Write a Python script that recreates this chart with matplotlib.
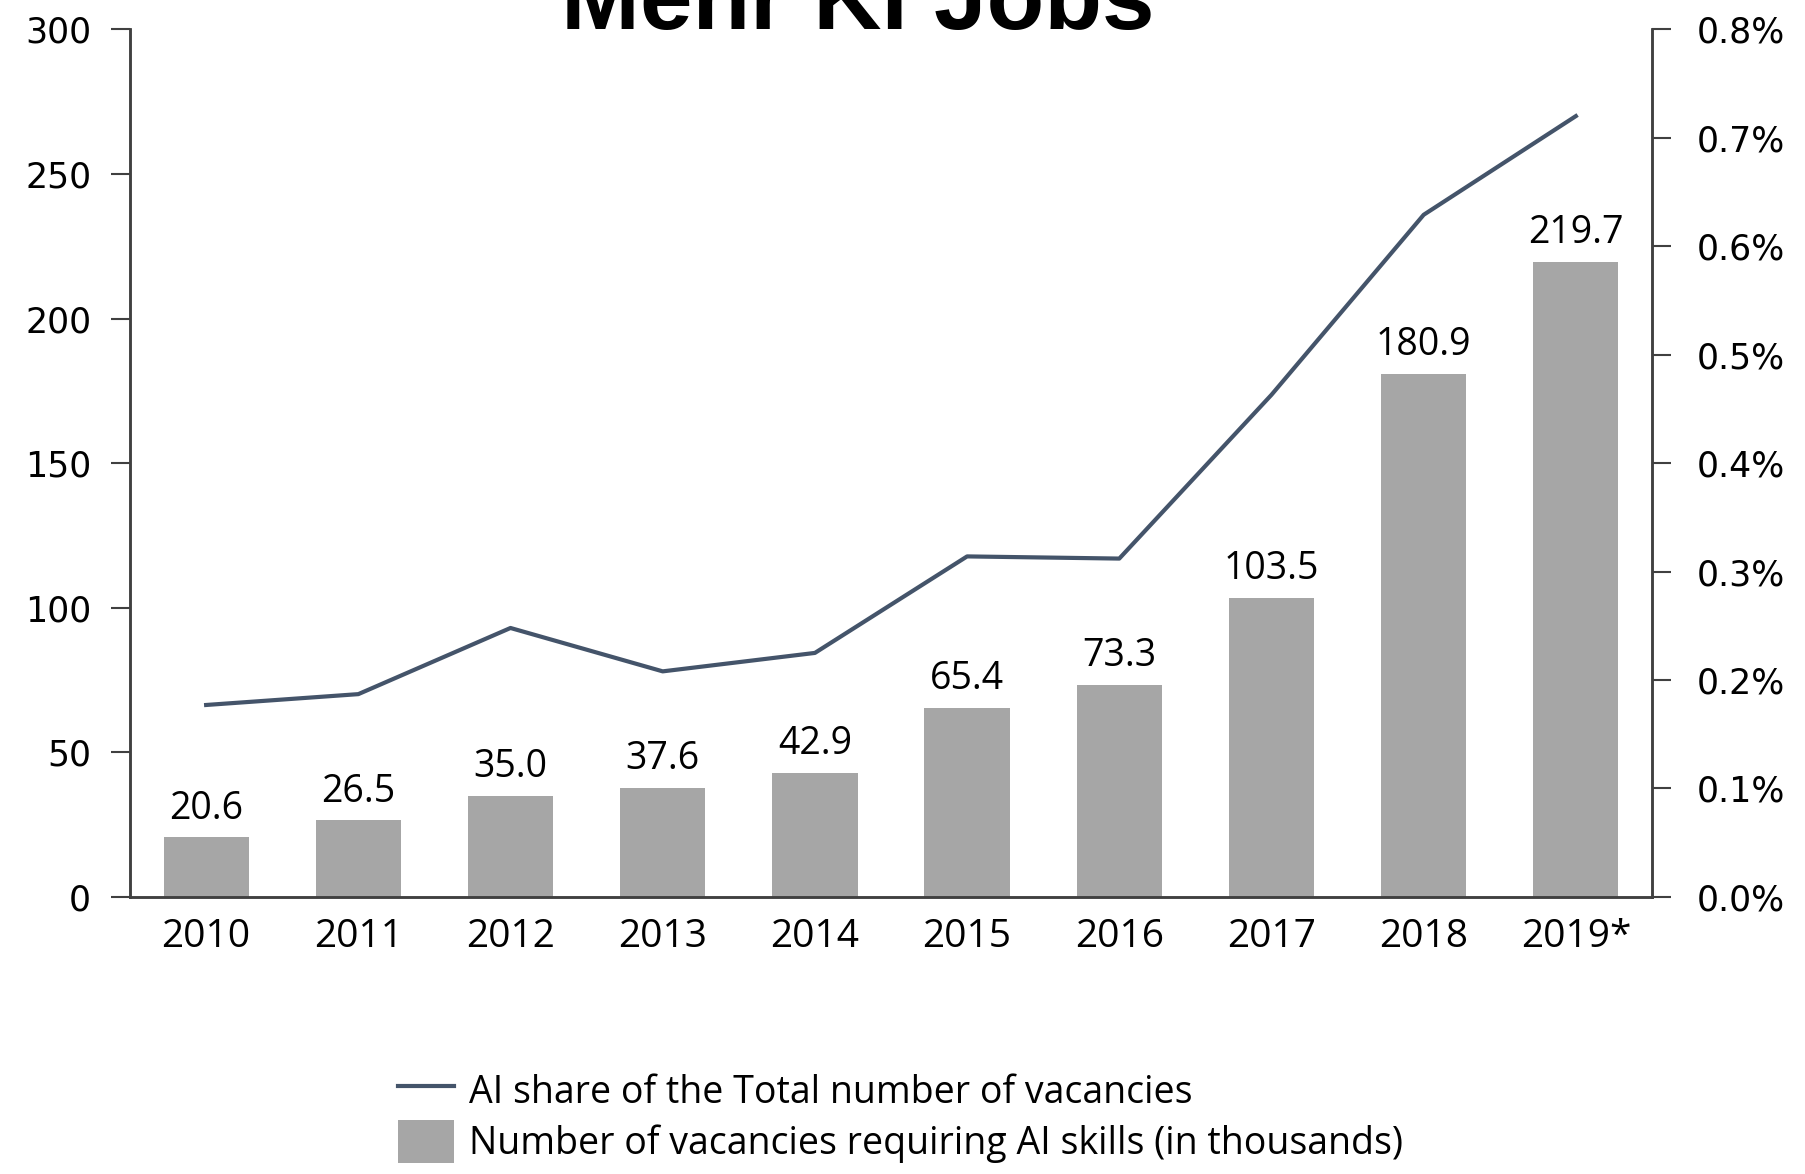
import matplotlib.pyplot as plt
from matplotlib.ticker import FuncFormatter

years = ["2010", "2011", "2012", "2013", "2014", "2015", "2016", "2017", "2018", "2019*"]
vacancies = [20.6, 26.5, 35.0, 37.6, 42.9, 65.4, 73.3, 103.5, 180.9, 219.7]
ai_share = [0.177, 0.187, 0.248, 0.208, 0.225, 0.314, 0.312, 0.463, 0.629, 0.720]

BAR_COLOR = "#a6a6a6"
LINE_COLOR = "#44546a"
AXIS_COLOR = "#404040"

fig = plt.figure(figsize=(18.06, 11.74), dpi=100)
ax = fig.add_axes([0.072, 0.236, 0.8427, 0.739])
ax2 = ax.twinx()

x = range(len(years))
bars = ax.bar(x, vacancies, width=0.56, color=BAR_COLOR,
              label="Number of vacancies requiring AI skills (in thousands)")
for xi, v in zip(x, vacancies):
    ax.annotate(f"{v:.1f}", (xi, v), xytext=(0, 7), textcoords="offset points",
                ha="center", va="bottom", fontsize=27, family="Open Sans")

line, = ax2.plot(x, ai_share, color=LINE_COLOR, lw=3,
                 label="AI share of the Total number of vacancies")

ax.set_xlim(-0.5, len(years) - 0.5)
ax.set_ylim(0, 300)
ax.set_yticks(range(0, 301, 50))
ax2.set_ylim(0, 0.8)
ax2.set_yticks([i / 10 for i in range(9)])
ax2.yaxis.set_major_formatter(FuncFormatter(lambda v, p: f"{v:.1f}%"))

ax.set_xticks(list(x))
ax.set_xticklabels(years, fontsize=28, family="Open Sans")
ax.tick_params(axis="x", length=0, pad=15)
ax.tick_params(axis="y", labelsize=25, length=14, width=1.5, color=AXIS_COLOR, pad=14)
ax2.tick_params(axis="y", labelsize=25, length=14, width=1.5, color=AXIS_COLOR, pad=18)

for a in (ax, ax2):
    a.spines["top"].set_visible(False)
    for s in ("left", "right", "bottom"):
        a.spines[s].set_color(AXIS_COLOR)
        a.spines[s].set_linewidth(1.8)

fig.text(0.475, 0.975, "Mehr KI Jobs", ha="center", va="baseline",
         fontsize=68, fontweight="bold", family="Liberation Sans")

fig.legend(handles=[line, bars], loc="upper left", bbox_to_anchor=(0.212, 0.102),
           frameon=False, handlelength=1.5, handleheight=1.4,
           handletextpad=0.4, labelspacing=0.2, borderaxespad=0,
           prop={"family": "Open Sans", "size": 27})

fig.savefig("out.png", dpi=100)
